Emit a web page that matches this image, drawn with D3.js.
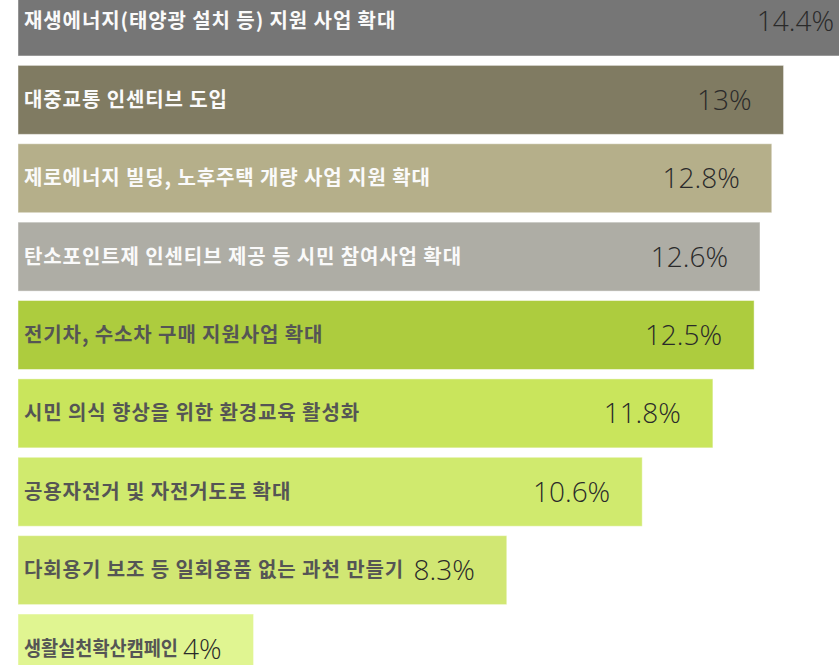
<!DOCTYPE html>
<html>
<head>
<meta charset="utf-8">
<script src="https://cdn.jsdelivr.net/npm/d3@7"></script>
<style>
  html, body { margin: 0; padding: 0; background: #fff; overflow: hidden; }
  .cat { font-family: "Noto Sans CJK KR", "Noto Sans", sans-serif; font-weight: 700; font-size: 20px; letter-spacing: 0.9px; }
  .val { font-family: "Open Sans", "Noto Sans", sans-serif; font-weight: 300; font-size: 28px; fill: #2a2a2a; }
</style>
</head>
<body>
<svg id="chart" width="839" height="665"></svg>
<script>
// categories, top to bottom
const categories = [
  '재생에너지(태양광 설치 등) 지원 사업 확대',
  '대중교통 인센티브 도입',
  '제로에너지 빌딩, 노후주택 개량 사업 지원 확대',
  '탄소포인트제 인센티브 제공 등 시민 참여사업 확대',
  '전기차, 수소차 구매 지원사업 확대',
  '시민 의식 향상을 위한 환경교육 활성화',
  '공용자전거 및 자전거도로 확대',
  '다회용기 보조 등 일회용품 없는 과천 만들기',
  '생활실천확산캠페인'
];
const values = [14.4, 13, 12.8, 12.6, 12.5, 11.8, 10.6, 8.3, 4];
const valueLabels = ['14.4%', '13%', '12.8%', '12.6%', '12.5%', '11.8%', '10.6%', '8.3%', '4%'];
const barColors = ['#767676', '#807b62', '#b5af8a', '#aeada5', '#adcc3e', '#c9e55c', '#d0ea6e', '#d1e773', '#e0f591'];
const labelColors = ['#fafafa', '#fafafa', '#fafafa', '#fafafa', '#555', '#555', '#555', '#555', '#555'];

const data = categories.map((c, i) => ({ cat: c, v: values[i], lab: valueLabels[i], col: barColors[i], tcol: labelColors[i] }));

const svg = d3.select('#chart');

const x = d3.scaleLinear()
    .domain([0, 14.4])
    .range([18, 866]);

const y = d3.scaleBand()
    .domain(categories)
    .range([-13, 683])
    .paddingInner(0.12)
    .paddingOuter(0);

const g = svg.selectAll('.bar')
    .data(data)
    .enter().append('g')
    .attr('class', 'bar');

g.append('rect')
    .attr('x', x(0))
    .attr('y', d => y(d.cat))
    .attr('width', d => x(d.v) - x(0))
    .attr('height', y.bandwidth())
    .attr('fill', d => d.col)
    .attr('stroke', '#fff')
    .attr('stroke-opacity', 0.45)
    .attr('stroke-width', 1);

// value label, right aligned inside the bar
g.append('text')
    .attr('class', 'val')
    .attr('x', d => x(d.v) - 32)
    .attr('y', d => y(d.cat) + y.bandwidth() / 2 + 10)
    .attr('text-anchor', 'end')
    .text(d => d.lab);

// category label
g.append('text')
    .attr('class', 'cat')
    .attr('x', 24)
    .attr('y', d => y(d.cat) + y.bandwidth() / 2 + 7)
    .attr('fill', d => d.tcol)
    .text(d => d.cat)
    .each(function() {
      // squeeze the label if it runs into the value
      const valBox = this.parentNode.querySelector('.val').getBBox();
      const room = valBox.x - 5 - 24;
      if (this.getComputedTextLength() > room) {
        d3.select(this)
          .style('letter-spacing', '0px')
          .attr('textLength', room)
          .attr('lengthAdjust', 'spacingAndGlyphs');
      }
    });
</script>
</body>
</html>
